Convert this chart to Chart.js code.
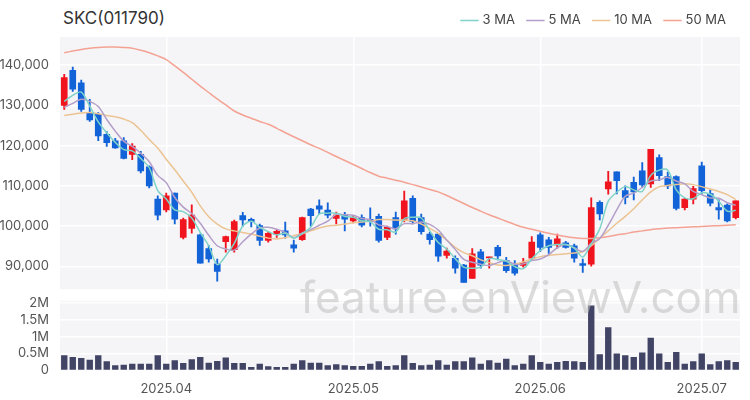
<!DOCTYPE html>
<html><head><meta charset="utf-8">
<script src="https://cdn.jsdelivr.net/npm/chart.js@4"></script>
<style>
body{margin:0;width:750px;height:400px;position:relative;background:#fff;font-family:Inter,"Noto Sans",sans-serif;overflow:hidden}
#title{position:absolute;left:63px;top:8px;font-size:17px;color:#333}
#p{position:absolute;left:0;top:0}
#v{position:absolute;left:0;top:290px}
#wm{position:absolute;left:300px;top:270px;font-size:44px;color:rgba(190,190,190,0.55);pointer-events:none}
</style></head><body>
<div id="title">SKC(011790)</div>
<canvas id="p" width="750" height="300"></canvas>
<canvas id="v" width="750" height="110"></canvas>
<div id="wm">feature.enViewV.com</div>
<script>
const opens = [130.0,138.7,135.6,128.3,127.8,122.8,121.2,121.2,117.8,117.8,114.7,106.7,104.0,108.2,97.2,99.4,97.8,94.4,90.6,96.1,94.1,102.6,101.7,100.1,96.4,98.0,98.8,95.3,96.6,104.2,105.0,104.0,101.9,102.6,101.3,102.1,101.7,102.4,97.2,102.1,101.7,106.9,102.1,98.0,98.0,92.7,92.0,90.3,87.0,93.6,92.1,94.7,91.4,90.6,90.2,92.0,97.8,96.6,95.3,95.8,95.1,90.7,90.5,105.9,109.2,113.5,108.8,110.9,113.7,110.5,117.0,112.3,112.3,104.6,106.7,115.0,108.1,104.6,105.2,102.1];
const highs = [137.7,139.5,136.3,131.5,128.2,123.5,121.8,122.0,120.5,118.6,115.0,107.5,108.2,108.2,102.0,105.3,98.0,95.2,91.8,97.5,101.5,103.4,102.0,100.5,98.5,99.2,101.0,96.5,102.2,104.4,106.5,105.8,103.5,103.4,102.6,102.8,104.5,103.0,100.0,103.5,108.7,107.5,103.0,98.5,98.2,94.5,92.6,90.5,94.4,94.2,92.3,95.2,92.2,91.4,92.0,97.4,98.3,97.2,98.0,96.2,95.5,91.8,107.0,106.3,113.6,113.5,110.0,112.2,115.8,119.1,117.7,113.4,112.5,106.9,109.9,115.9,109.0,106.5,105.5,106.3];
const lows = [129.0,133.5,128.5,126.0,121.2,119.8,119.3,116.7,116.5,113.2,109.5,101.5,103.5,100.5,96.8,98.2,90.8,91.0,86.3,93.5,93.5,99.9,99.8,95.2,96.0,97.2,97.0,93.5,96.4,100.0,103.0,102.0,100.5,98.8,100.8,99.8,100.0,96.0,96.6,98.0,101.0,100.5,98.0,95.5,91.2,92.0,88.3,86.0,87.0,89.5,89.5,91.6,88.5,87.8,89.8,91.6,93.6,93.2,94.5,94.5,91.0,88.5,90.0,101.5,107.9,108.0,105.5,106.5,109.7,109.6,111.3,109.3,104.0,104.0,105.5,108.0,105.0,101.7,101.0,101.8];
const closes = [136.9,134.0,129.0,126.4,122.4,120.7,119.4,116.8,119.9,113.7,110.0,102.7,107.5,101.7,101.6,102.7,90.8,91.8,88.7,97.4,101.1,101.5,101.1,96.4,98.2,98.7,97.8,94.5,102.1,102.6,104.2,102.7,102.7,101.7,102.1,100.2,101.1,96.4,99.7,99.3,106.3,101.1,98.6,96.6,92.5,93.8,89.5,86.0,93.1,90.3,92.3,92.6,88.9,88.3,91.0,96.0,94.7,94.7,96.8,94.7,92.0,90.2,104.6,103.0,111.0,111.3,107.1,108.5,110.2,119.1,112.5,110.0,104.4,106.7,109.3,108.8,105.7,104.0,101.3,106.3];
const ma3 = [131,132.5,133.3,129.8,125.9,123.2,120.8,119.0,118.7,116.8,114.5,108.8,106.7,104.0,103.6,102.0,98.4,95.1,90.4,92.6,95.7,100.0,101.2,99.7,98.6,97.8,98.2,97.0,98.1,99.7,103.0,103.2,103.2,102.4,102.2,101.3,101.1,99.2,99.1,98.5,101.8,102.2,102.0,98.8,95.9,94.3,91.9,89.8,89.5,89.8,91.9,91.7,91.3,89.9,89.4,91.8,93.9,95.1,95.4,95.4,94.5,92.3,95.6,99.3,106.2,108.4,109.8,109.0,108.6,112.6,113.9,113.9,109.0,107.0,106.8,108.3,107.9,106.2,103.7,103.9];
const ma5 = [129.5,130.5,131.5,131,129.7,126.5,123.6,121.1,119.8,118.1,116.0,112.6,110.8,107.1,104.7,103.1,100.7,97.7,95.1,94.3,94.0,96.1,98.0,99.5,99.7,99.2,98.4,97.1,98.3,99.1,100.2,101.2,102.9,102.8,102.7,101.9,101.6,100.3,99.9,99.3,100.6,100.6,101.0,100.4,99.0,96.5,94.2,91.7,91.0,90.5,90.2,90.9,91.4,90.5,90.6,91.4,91.8,92.9,94.6,95.4,94.6,93.7,95.7,96.9,100.2,104.0,107.4,108.2,109.6,111.2,111.5,112.1,111.2,110.5,108.6,107.8,107.0,106.9,105.8,105.2];
const ma10 = [127.5,127.8,128.1,128.2,127.9,127.5,127.2,126.6,125.7,123.8,121.5,119.4,116.6,114,111.2,108.4,105,102.3,100.5,99.3,98.8,98.4,98,97.5,97,96.8,97.1,97.6,98.1,98.8,99.5,100,100.2,100.5,100.8,101,101.2,101.6,101.6,101.5,101.4,101.3,100.5,99.4,98.2,96.5,94.7,93.4,92.6,91.6,90.9,90.3,90.2,90.5,91.1,91.8,92.4,92.7,92.9,93.1,93.3,93.6,95.1,97,98.8,100.7,102.4,104.3,106.5,108.5,109.8,110.1,110.3,110.5,110.3,109.8,109.2,108.6,107.8,106.6];
const ma50 = [143.1,143.5,143.9,144.2,144.4,144.5,144.5,144.4,144.2,143.7,143.1,142.3,141.4,139.8,138.2,136.5,134.8,133.2,131.6,130.1,128.6,127.6,126.8,126.0,125.3,124.3,123.2,122.2,121.2,120.2,119.3,118.3,117.3,116.3,115.3,114.3,113.3,112.4,111.9,111.4,110.9,110.3,109.7,109.1,108.5,107.6,106.6,105.6,104.6,103.7,102.8,102,101.2,100.4,99.7,99.2,98.7,98.2,97.8,97.4,97.1,96.9,96.9,97.1,97.4,97.8,98.1,98.5,98.8,99.1,99.3,99.5,99.6,99.7,99.8,99.9,100,100.1,100.2,100.3];
const volumes = [0.45,0.4,0.37,0.32,0.45,0.27,0.15,0.17,0.2,0.2,0.2,0.45,0.2,0.3,0.22,0.33,0.4,0.23,0.28,0.38,0.22,0.22,0.1,0.2,0.12,0.1,0.1,0.2,0.3,0.23,0.23,0.15,0.18,0.15,0.13,0.13,0.2,0.27,0.13,0.15,0.45,0.22,0.15,0.17,0.3,0.17,0.27,0.27,0.38,0.2,0.3,0.23,0.35,0.15,0.2,0.45,0.25,0.2,0.25,0.28,0.27,0.25,1.93,0.48,1.28,0.5,0.45,0.4,0.53,0.97,0.5,0.25,0.55,0.2,0.27,0.5,0.18,0.27,0.3,0.25];
const monthTicks = {12:'2025.04', 34:'2025.05', 56:'2025.06', 75:'2025.07'};
const labels = closes.map((_, i) => monthTicks[i] || '');
const priceTicks = [90000, 100000, 110000, 120000, 130000, 140000];
const volTicks = [0, 500000, 1000000, 1500000, 2000000];
const volTickText = ['0', '0.5M', '1M', '1.5M', '2M'];

const RED = '#f0141e', BLUE = '#1262d8';
const k = v => v * 1000;
const upColor = closes.map((c, i) => c >= opens[i] ? RED : BLUE);

const bgPlugin = {
  id: 'bg',
  beforeDraw(chart) {
    const a = chart.chartArea, c = chart.ctx;
    c.save(); c.fillStyle = '#f5f5f7';
    c.fillRect(a.left, a.top, a.right - a.left, a.bottom - a.top);
    c.restore();
  }
};
const fixW = s => { s.width = 60; };
const font = { size: 13, family: 'Inter' };
const xGrid = { offset: false, color: c => labels[c.index] ? '#ffffff' : 'transparent', lineWidth: 1.5 };
const line = (label, data, color) => ({
  type: 'line', label, data: data.map(k), borderColor: color, borderWidth: 1.5,
  pointRadius: 0, tension: 0.3, order: 0
});

new Chart(document.getElementById('p'), {
  data: {
    labels,
    datasets: [
      line('3 MA', ma3, '#7fd3c8'),
      line('5 MA', ma5, '#b39ec9'),
      line('10 MA', ma10, '#ecc493'),
      line('50 MA', ma50, '#f4a293'),
      { type: 'bar', label: 'wick', data: lows.map((l, i) => [k(l), k(highs[i])]),
        backgroundColor: upColor, barThickness: 1.2, grouped: false, order: 2 },
      { type: 'bar', label: 'body', data: opens.map((o, i) => [k(o), k(closes[i])]),
        backgroundColor: upColor, barThickness: 6, grouped: false, order: 1, minBarLength: 1 }
    ]
  },
  options: {
    responsive: false, animation: false,
    layout: { padding: { right: 10, bottom: 0 } },
    plugins: {
      legend: {
        position: 'top', align: 'end',
        labels: { filter: it => it.text.includes('MA'), usePointStyle: true, pointStyle: 'line',
          boxWidth: 30, color: '#444', font, padding: 14 }
      },
      tooltip: { enabled: false }
    },
    scales: {
      x: { ticks: { display: false, autoSkip: false }, grid: xGrid, border: { display: false } },
      y: { min: 84300, max: 147000, afterFit: fixW, border: { display: false },
        afterBuildTicks: s => { s.ticks = priceTicks.map(value => ({ value })); },
        ticks: { autoSkip: false, color: '#555', font, callback: v => v.toLocaleString('en-US') },
        grid: { color: '#ffffff', lineWidth: 1.5 } }
    }
  },
  plugins: [bgPlugin]
});

new Chart(document.getElementById('v'), {
  type: 'bar',
  data: { labels, datasets: [{ data: volumes.map(v => v * 1e6), backgroundColor: '#424466', barPercentage: 0.75, categoryPercentage: 1 }] },
  options: {
    responsive: false, animation: false,
    layout: { padding: { right: 10, top: 7 } },
    plugins: { legend: { display: false }, tooltip: { enabled: false } },
    scales: {
      x: { ticks: { autoSkip: false, maxRotation: 0, color: '#555', font,
          callback: (v, i) => labels[i] }, grid: xGrid, border: { display: false } },
      y: { min: 0, max: 2070000, afterFit: fixW, border: { display: false },
        afterBuildTicks: s => { s.ticks = volTicks.map(value => ({ value })); },
        ticks: { autoSkip: false, color: '#555', font, callback: (v, i) => volTickText[i] },
        grid: { color: '#ffffff', lineWidth: 1.5 } }
    }
  },
  plugins: [bgPlugin]
});
</script>
</body></html>
